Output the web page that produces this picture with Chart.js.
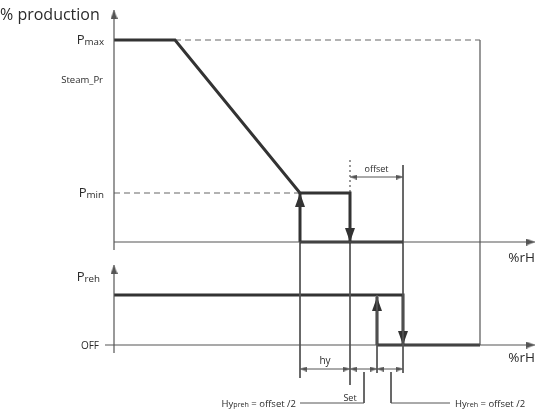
<!DOCTYPE html>
<html lang="en">
<head>
<meta charset="UTF-8">
<title>% production / %rH</title>
<script src="https://cdn.jsdelivr.net/npm/chart.js"></script>
<style>
  html, body { margin: 0; padding: 0; background: #fff; }
  canvas { display: block; }
</style>
</head>
<body>
<canvas id="diagram" width="542" height="412"></canvas>
<script>
// x = distance along %rH from the vertical axis, y = height above the upper %rH axis
const productionRh = [0, 61, 186, 236];
const productionLevel = [202, 202, 49, 49];
const levelNames = ['Pmax', 'Steam_Pr', 'Pmin'];
const levelValues = [202, 162, 49];
const rehNames = ['Preh', 'OFF'];
const rehValues = [-53, -103];
const rhMarks = [186, 236, 263, 289, 366]; // hy start, Set, preh on, Set + offset, limit
const rhAxisEnd = 421;
const dimLevel = -127;
const leaderLevel = -161;

const INK = '#333';
const THIN = '#555';

const [hyStart, setRh, prehOn, offsetRh, limitRh] = rhMarks;
const [pmax, steamPr, pmin] = levelValues;
const [prehLevel, offLevel] = rehValues;

function seg(points, opts) {
  return Object.assign({
    data: points.map(p => ({ x: p[0], y: p[1] })),
    showLine: true,
    borderColor: THIN,
    borderWidth: 1.2,
    pointRadius: 0,
    fill: false,
    tension: 0
  }, opts || {});
}

const datasets = [
  // axes
  seg([[0, -8], [0, 232]]),
  seg([[0, 0], [rhAxisEnd, 0]]),
  seg([[0, -111], [0, -23]]),
  seg([[-9, offLevel], [rhAxisEnd, offLevel]]),
  // production curve
  seg(productionRh.map((x, i) => [x, productionLevel[i]]).concat([[setRh, 0]]), { borderColor: INK, borderWidth: 3 }),
  seg([[hyStart, 0], [hyStart, pmin]], { borderColor: INK, borderWidth: 3 }),
  seg([[hyStart, 0], [offsetRh, 0]], { borderColor: INK, borderWidth: 3 }),
  // reference lines
  seg([[productionRh[1], pmax], [limitRh, pmax]], { borderDash: [6, 4], borderColor: '#666' }),
  seg([[0, pmin], [hyStart, pmin]], { borderDash: [6, 4], borderColor: '#666' }),
  seg([[limitRh, pmax], [limitRh, offLevel]]),
  seg([[setRh, 82], [setRh, pmin]], { borderDash: [2, 3] }),
  seg([[hyStart, pmin], [hyStart, -136]], { borderWidth: 1 }),
  seg([[setRh, 0], [setRh, -143]], { borderWidth: 1 }),
  seg([[offsetRh, 77], [offsetRh, -131]], { borderWidth: 1 }),
  seg([[prehOn, prehLevel], [prehOn, -131]], { borderWidth: 1 }),
  seg([[setRh, 65], [offsetRh, 65]], { borderWidth: 1 }),
  // preheating curve
  seg([[0, prehLevel], [offsetRh, prehLevel], [offsetRh, offLevel]], { borderColor: INK, borderWidth: 3 }),
  seg([[prehOn, offLevel], [prehOn, prehLevel - 2]], { borderColor: INK, borderWidth: 3 }),
  seg([[prehOn, offLevel], [limitRh, offLevel]], { borderColor: INK, borderWidth: 3 }),
  // dimensions
  seg([[hyStart, dimLevel], [setRh, dimLevel]], { borderWidth: 1 }),
  seg([[setRh, dimLevel], [prehOn, dimLevel]], { borderWidth: 1 }),
  seg([[prehOn, dimLevel], [offsetRh, dimLevel]], { borderWidth: 1 }),
  seg([[250, -130], [250, leaderLevel], [hyStart, leaderLevel]], { borderWidth: 1 }),
  seg([[277, -130], [277, leaderLevel], [336, leaderLevel]], { borderWidth: 1 })
];

// arrow head images, pointing up, tip at the top edge
function arrowImage(w, h, color) {
  const c = document.createElement('canvas');
  c.width = w; c.height = h;
  const g = c.getContext('2d');
  g.fillStyle = color;
  g.beginPath();
  g.moveTo(w / 2, 0);
  g.lineTo(w, h);
  g.lineTo(0, h);
  g.closePath();
  g.fill();
  return c;
}
const heads = {
  big: { img: arrowImage(10, 14, INK), len: 14 },
  axis: { img: arrowImage(7, 9, THIN), len: 9 },
  dim: { img: arrowImage(5, 7, THIN), len: 7 }
};

// arrow heads: tip point, direction, kind
const arrowTips = [
  [0, 232, 'up', 'axis'], [rhAxisEnd, 0, 'right', 'axis'],
  [0, -23, 'up', 'axis'], [rhAxisEnd, offLevel, 'right', 'axis'],
  [setRh, 0, 'down', 'big'], [hyStart, pmin, 'up', 'big'],
  [offsetRh, offLevel, 'down', 'big'], [prehOn, prehLevel - 2, 'up', 'big'],
  [setRh, 65, 'left', 'dim'], [offsetRh, 65, 'right', 'dim'],
  [hyStart, dimLevel, 'left', 'dim'], [setRh, dimLevel, 'right', 'dim'],
  [setRh, dimLevel, 'left', 'dim'], [prehOn, dimLevel, 'right', 'dim'],
  [prehOn, dimLevel, 'left', 'dim'], [offsetRh, dimLevel, 'right', 'dim']
];
const dirs = { up: [0, -1, 0], down: [0, 1, 180], right: [-1, 0, 90], left: [1, 0, 270] };
datasets.push({
  data: arrowTips.map(a => {
    const half = heads[a[3]].len / 2;
    return { x: a[0] + dirs[a[2]][0] * half, y: a[1] + dirs[a[2]][1] * half };
  }),
  showLine: false,
  pointStyle: arrowTips.map(a => heads[a[3]].img),
  pointRadius: 5,
  pointRotation: arrowTips.map(a => dirs[a[2]][2])
});

const FONT = '"Open Sans", "DejaVu Sans", sans-serif';

function subLabel(ctx, main, sub, xRight, y, size) {
  ctx.font = size + 'px ' + FONT;
  const mw = ctx.measureText(main).width;
  ctx.font = (size * 0.75) + 'px ' + FONT;
  const sw = ctx.measureText(sub).width;
  const x0 = xRight - mw - sw;
  ctx.textAlign = 'left';
  ctx.font = size + 'px ' + FONT;
  ctx.fillText(main, x0, y);
  ctx.font = (size * 0.75) + 'px ' + FONT;
  ctx.fillText(sub, x0 + mw, y + size * 0.15);
  return x0;
}

const textPlugin = {
  id: 'diagramText',
  afterDatasetsDraw(chart) {
    const { ctx, scales } = chart;
    const px = v => scales.x.getPixelForValue(v);
    const py = v => scales.y.getPixelForValue(v);
    const ax = px(0);
    ctx.save();
    ctx.fillStyle = '#2a2a2a';
    ctx.textBaseline = 'middle';

    ctx.textAlign = 'left';
    ctx.font = '16px ' + FONT;
    ctx.fillText('% production', 0, 15);

    subLabel(ctx, 'P', 'max', ax - 10, py(pmax), 13);
    subLabel(ctx, 'P', 'min', ax - 10, py(pmin), 13);
    ctx.textAlign = 'right';
    ctx.font = '9.5px ' + FONT;
    ctx.fillText(levelNames[1], ax - 11, py(steamPr));

    subLabel(ctx, 'P', 'reh', ax - 14, py(prehLevel) - 18, 13);
    ctx.textAlign = 'right';
    ctx.font = '10px ' + FONT;
    ctx.fillText(rehNames[1], ax - 15, py(offLevel) + 1);

    ctx.font = '13.5px ' + FONT;
    ctx.textAlign = 'right';
    ctx.fillText('%rH', px(rhAxisEnd), py(0) + 16);
    ctx.fillText('%rH', px(rhAxisEnd), py(offLevel) + 13);

    ctx.textAlign = 'center';
    ctx.font = '9px ' + FONT;
    ctx.fillText('offset', px((setRh + offsetRh) / 2), py(65) - 8);
    ctx.font = '10px ' + FONT;
    ctx.fillText('hy', px((hyStart + setRh) / 2), py(dimLevel) - 8);
    ctx.font = '9px ' + FONT;
    ctx.fillText('Set', px(setRh), py(leaderLevel) - 5);

    const rest = ' = offset /2';
    ctx.font = '9.5px ' + FONT;
    const restW = ctx.measureText(rest).width;
    subLabel(ctx, 'Hy', 'preh', px(hyStart) - 4 - restW, py(leaderLevel) + 1, 9.5);
    ctx.textAlign = 'left';
    ctx.font = '9.5px ' + FONT;
    ctx.fillText(rest, px(hyStart) - 4 - restW, py(leaderLevel) + 1);

    ctx.font = '9.5px ' + FONT;
    const hyW = ctx.measureText('Hy').width;
    ctx.font = (9.5 * 0.75) + 'px ' + FONT;
    const rehW = ctx.measureText('reh').width;
    const rx = px(336) + 5;
    subLabel(ctx, 'Hy', 'reh', rx + hyW + rehW, py(leaderLevel) + 1, 9.5);
    ctx.textAlign = 'left';
    ctx.font = '9.5px ' + FONT;
    ctx.fillText(rest, rx + hyW + rehW, py(leaderLevel) + 1);
    ctx.restore();
  }
};

new Chart(document.getElementById('diagram'), {
  type: 'scatter',
  data: { datasets },
  options: {
    responsive: false,
    animation: false,
    layout: { padding: 0, autoPadding: false },
    plugins: { legend: { display: false }, tooltip: { enabled: false } },
    scales: {
      x: { type: 'linear', min: -114, max: 428, display: false },
      y: { type: 'linear', min: -170, max: 242, display: false }
    }
  },
  plugins: [textPlugin]
});
</script>
</body>
</html>
